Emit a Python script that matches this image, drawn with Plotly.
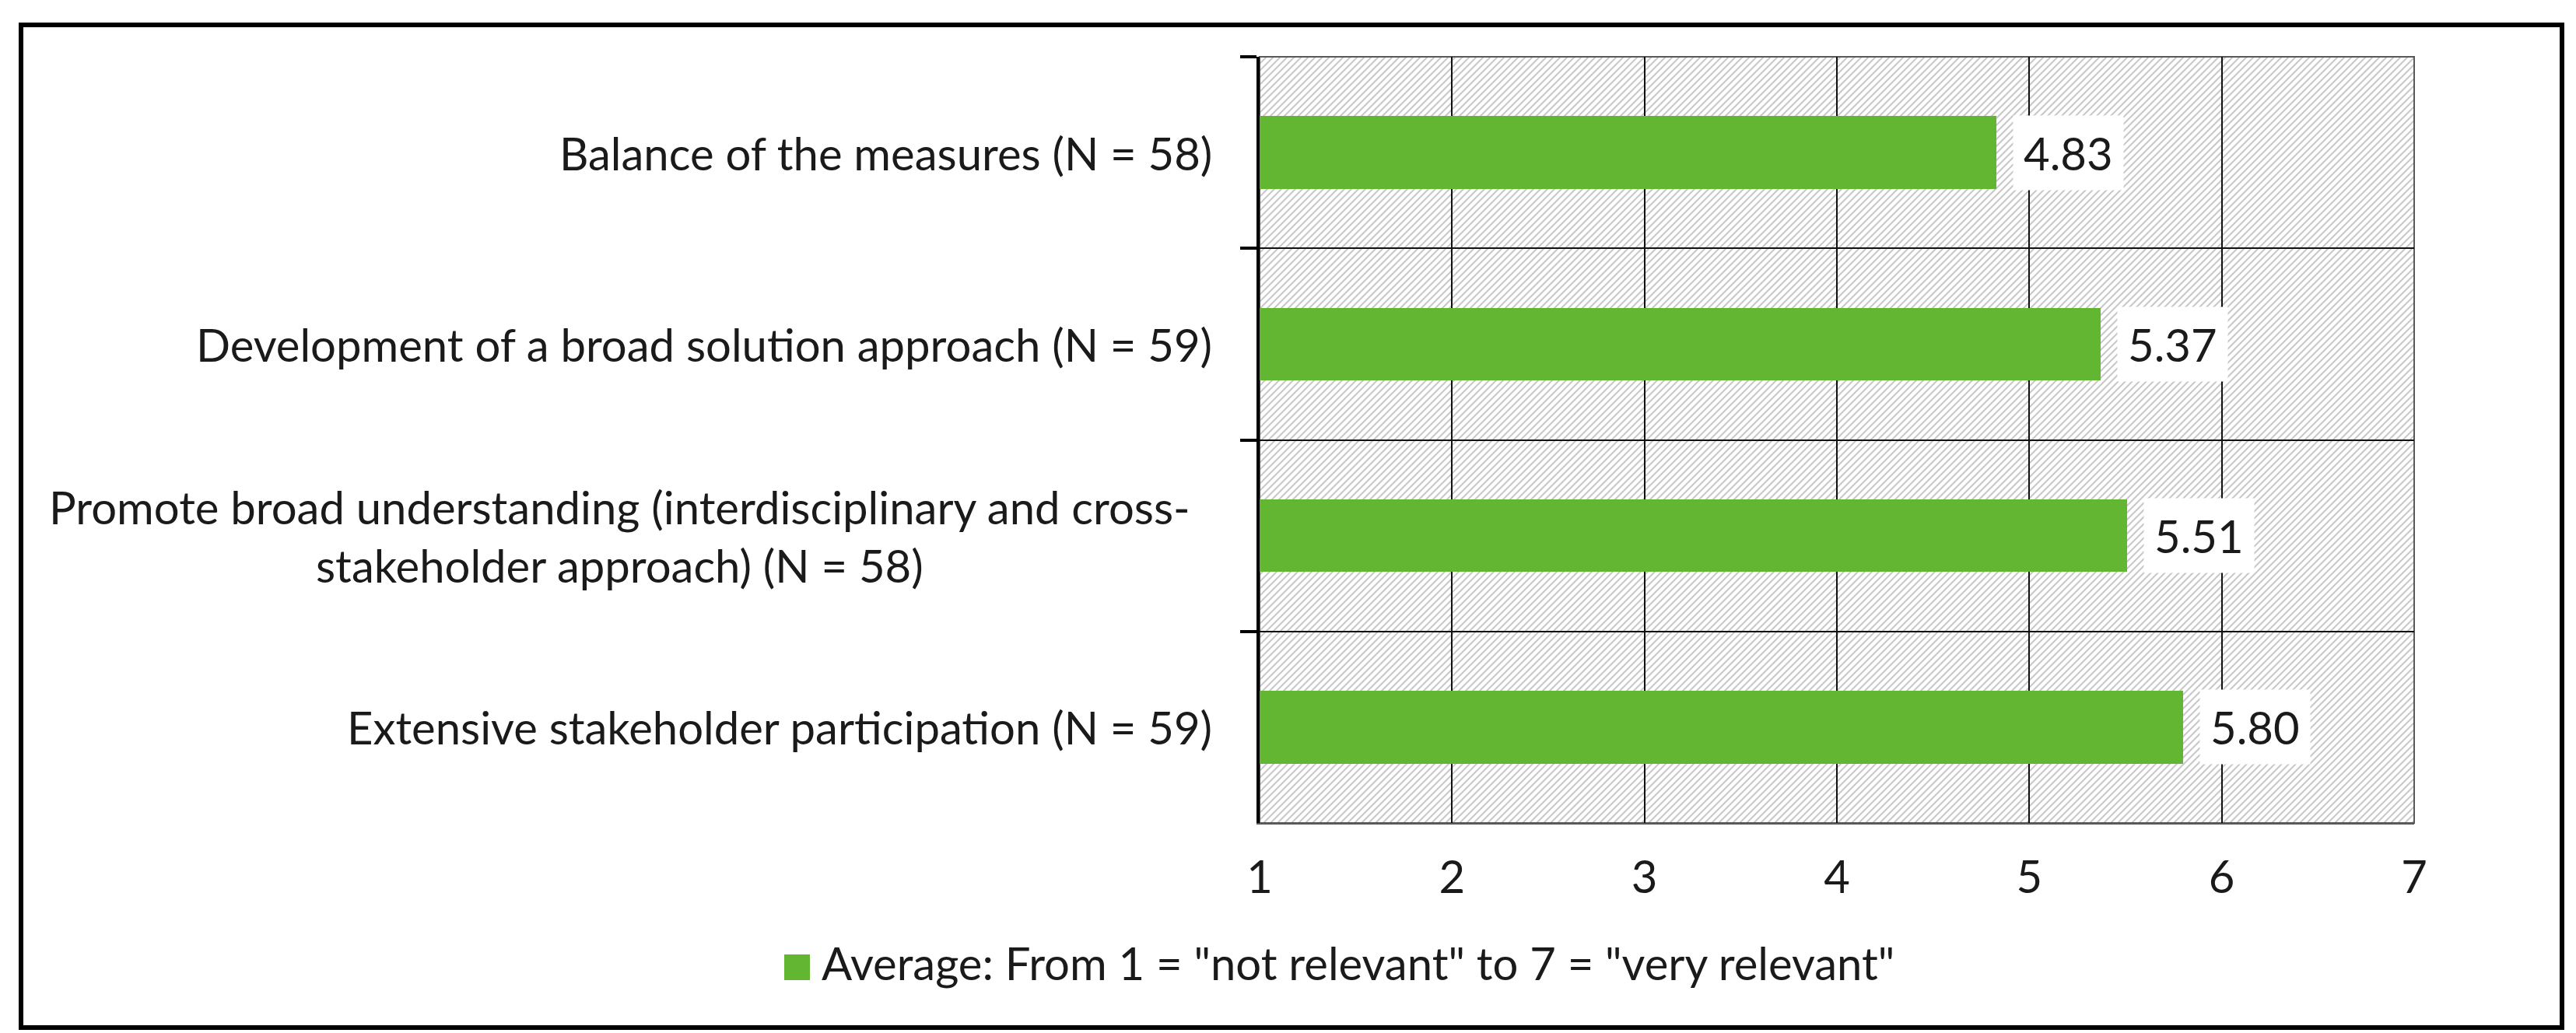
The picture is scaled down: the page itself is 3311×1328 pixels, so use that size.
import plotly.graph_objects as go

# ---------------- data ----------------
categories = [
    "Balance of the measures (N = 58)",
    "Development of a broad solution approach (N = 59)",
    "Promote broad understanding (interdisciplinary and cross-<br>stakeholder approach) (N = 58)",
    "Extensive stakeholder participation (N = 59)",
]
values = [4.83, 5.37, 5.51, 5.80]
x_ticks = [1, 2, 3, 4, 5, 6, 7]
legend_text = 'Average: From 1 = "not relevant" to 7 = "very relevant"'

# ---------------- layout constants ----------------
WIDTH, HEIGHT = 3311, 1328
ML, MR, MT, MB = 1611, 216, 65, 278
PW = WIDTH - ML - MR
PH = HEIGHT - MT - MB
FONT = "Lato, 'Open Sans', sans-serif"
FS = 58
TXT = "#1a1a1a"
GREEN = "#62B632"


def px_x(px):
    """figure pixel x -> paper x"""
    return (px - ML) / PW


def px_y(py):
    """figure pixel y (from top) -> paper y"""
    return (HEIGHT - MB - py) / PH


fig = go.Figure()

fig.add_trace(go.Bar(
    x=values,
    y=categories,
    orientation="h",
    width=0.38,
    marker=dict(color=GREEN, line=dict(width=0)),
    showlegend=False,
    hoverinfo="skip",
))

shapes = []

# diagonal hatch of the plot area (drawn under gridlines)
step = 9
c = -PH
while c < PW:
    x0 = max(0, c)
    x1 = min(PW, PH + c)
    if x1 > x0:
        shapes.append(dict(
            type="line", xref="paper", yref="paper", layer="below",
            x0=x0 / PW, y0=(x0 - c) / PH, x1=x1 / PW, y1=(x1 - c) / PH,
            line=dict(color="#c8c8c8", width=2),
        ))
    c += step

# plot frame
shapes.append(dict(type="rect", xref="paper", yref="paper", layer="below",
                   x0=0, y0=0, x1=1, y1=1,
                   line=dict(color="#595959", width=2)))

# outer chart border
shapes.append(dict(type="rect", xref="paper", yref="paper", layer="above",
                   x0=px_x(19), x1=px_x(3285), y0=px_y(1313), y1=px_y(24),
                   line=dict(color="black", width=6)))

# legend swatch
shapes.append(dict(type="rect", xref="paper", yref="paper", layer="above",
                   x0=px_x(1000), x1=px_x(1033), y0=px_y(1252), y1=px_y(1219),
                   fillcolor=GREEN, line=dict(width=0)))

annotations = []
# value labels with white boxes
for cat, v in zip(categories, values):
    annotations.append(dict(
        x=v, y=cat, xref="x", yref="y", text=f"{v:.2f}",
        showarrow=False, xanchor="left", yanchor="middle", xshift=21,
        bgcolor="white", borderpad=13,
        font=dict(family=FONT, size=FS, color=TXT),
    ))
# category labels (centered multi-line like the original)
for cat in categories:
    annotations.append(dict(
        x=0, y=cat, xref="paper", yref="y", text=cat,
        showarrow=False, xanchor="right", yanchor="middle",
        xshift=-59 - (28 if "<br>" in cat else 0),
        align="center",
        font=dict(family=FONT, size=FS, color=TXT),
    ))
# legend text
annotations.append(dict(
    x=px_x(1046), y=px_y(1229), xref="paper", yref="paper", text=legend_text,
    showarrow=False, xanchor="left", yanchor="middle",
    font=dict(family=FONT, size=FS, color=TXT),
))

fig.update_layout(
    width=WIDTH, height=HEIGHT,
    margin=dict(l=ML, r=MR, t=MT, b=MB, pad=0),
    paper_bgcolor="white", plot_bgcolor="white",
    font=dict(family=FONT, size=FS, color=TXT),
    shapes=shapes,
    annotations=annotations,
    showlegend=False,
    bargap=0,
)

fig.update_xaxes(
    range=[x_ticks[0], x_ticks[-1]],
    tickmode="array", tickvals=x_ticks, ticktext=[str(t) for t in x_ticks],
    showgrid=True, gridcolor="#111111", gridwidth=2,
    showline=True, linecolor="#595959", linewidth=2,
    zeroline=False, ticks="",
    tickfont=dict(family=FONT, size=FS, color=TXT),
    ticklabelstandoff=18,
)

fig.update_yaxes(
    type="category", categoryorder="array", categoryarray=categories,
    autorange="reversed",
    showticklabels=False,
    ticks="outside", ticklen=21, tickwidth=4, tickcolor="black",
    tickson="boundaries",
    showgrid=True, gridcolor="#111111", gridwidth=2,
    showline=True, linecolor="black", linewidth=4,
    zeroline=False,
)

fig.write_html("out.html")
